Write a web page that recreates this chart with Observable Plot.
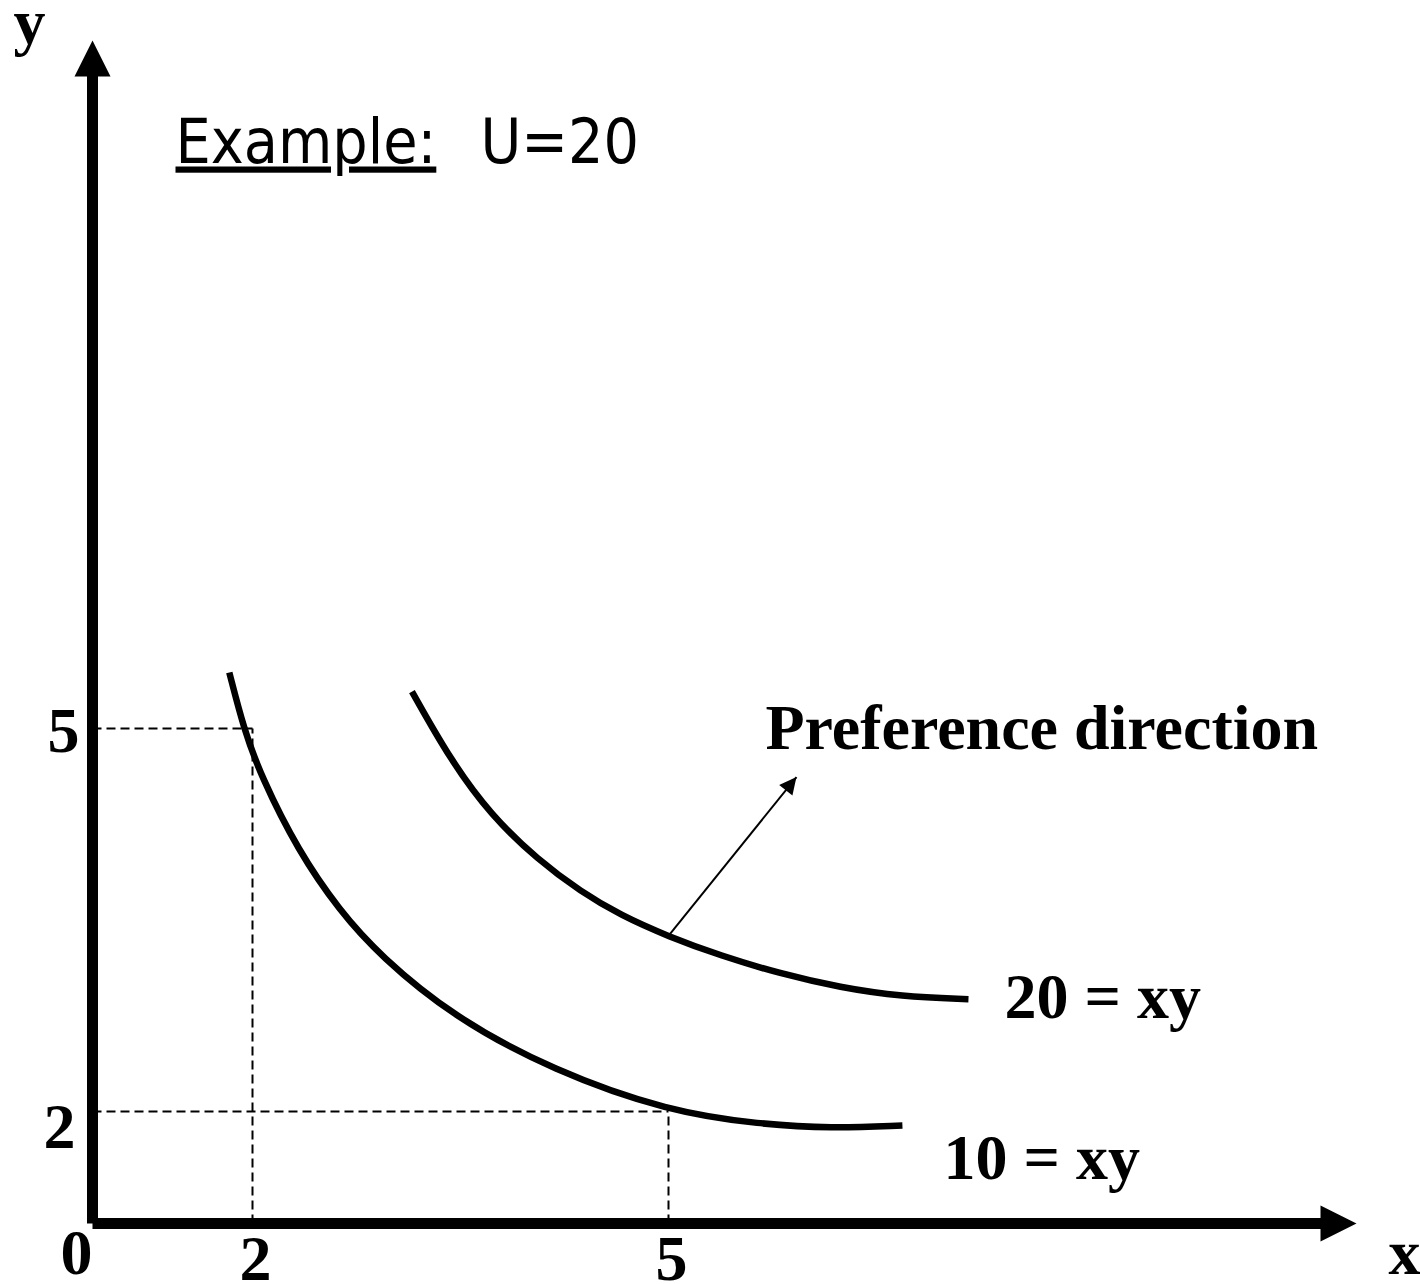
<!DOCTYPE html>
<html>
<head>
<meta charset="utf-8">
<script src="https://cdn.jsdelivr.net/npm/d3@7"></script>
<script src="https://cdn.jsdelivr.net/npm/@observablehq/plot@0.6"></script>
<style>
  html, body { margin: 0; padding: 0; background: #ffffff; }
  #chart svg { display: block; }
</style>
</head>
<body>
<div id="chart"></div>
<script>
// ---------- data ----------
const lowerCurveX = [1.71, 1.89, 2.06, 2.33, 2.63, 2.92, 3.45, 4.17, 5.00, 5.67, 6.18, 6.70];
const lowerCurveY = [5.44, 5.00, 4.63, 4.04, 3.57, 3.22, 2.74, 2.32, 2.00, 1.77, 1.70, 1.75];
const upperCurveX = [3.15, 3.43, 3.72, 4.06, 4.37, 4.65, 5.00, 5.38, 5.81, 6.25, 6.69, 7.18];
const upperCurveY = [5.29, 4.75, 4.32, 3.97, 3.72, 3.54, 3.37, 3.22, 3.08, 2.97, 2.90, 2.88];
const curveLabels = ["10 = xy", "20 = xy"];
const guidePointsX = [2, 5];          // (2,5) and (5,2) on 10 = xy
const guidePointsY = [5, 2];
const xTickValues = [2, 5];
const yTickValues = [5, 2];
const arrowFrom = [5.01, 3.39];
const arrowTo = [5.93, 4.62];
const arrowLabel = "Preference direction";
const axisMax = [10, 10.4];            // x, y at the arrow tips
const axisNames = ["x", "y"];
const originLabel = "0";
const titleParts = ["Example:", "U=20"];

// ---------- scales ----------
const xScaleOpts = {type: "linear", domain: [0, 2, 5, axisMax[0]], range: [92, 252, 668, 1356], axis: null};
const yScaleOpts = {type: "linear", domain: [0, 2, 5, axisMax[1]], range: [1223, 1111, 728, 40], axis: null};
const sx = Plot.scale({x: xScaleOpts});
const sy = Plot.scale({y: yScaleOpts});

const lower = lowerCurveX.map((x, i) => ({x, y: lowerCurveY[i]}));
const upper = upperCurveX.map((x, i) => ({x, y: upperCurveY[i]}));
const guides = guidePointsX.map((x, i) => ({x, y: guidePointsY[i]}));
const hGuides = guides.map(d => ({x1: 0, x2: d.x, y1: d.y, y2: d.y}));
const vGuides = guides.map(d => ({x1: d.x, x2: d.x, y1: 0, y2: d.y}));

const axesLines = [
  {x1: 0, y1: 0, x2: axisMax[0] * 0.98, y2: 0},
  {x1: 0, y1: 0, x2: 0, y2: axisMax[1] * 0.981}
];

// arrowhead symbol: tip at origin, pointing up
const headSymbol = {
  draw(ctx, size) {
    const r = Math.sqrt(size / Math.PI);
    ctx.moveTo(0, 0);
    ctx.lineTo(r / 2, r);
    ctx.lineTo(-r / 2, r);
    ctx.closePath();
  }
};
const pdx = sx.apply(arrowTo[0]) - sx.apply(arrowFrom[0]);
const pdy = sy.apply(arrowTo[1]) - sy.apply(arrowFrom[1]);
const pointerAngle = Math.atan2(pdx, -pdy) * 180 / Math.PI;

const serif = "'Liberation Serif','Times New Roman',Times,serif";
const sans = "'DejaVu Sans Condensed','DejaVu Sans',Tahoma,Verdana,sans-serif";
const big = 64;

const chart = Plot.plot({
  width: 1420,
  height: 1284,
  margin: 0,
  x: xScaleOpts,
  y: yScaleOpts,
  style: {background: "#ffffff", color: "#000000"},
  marks: [
    // dashed guides
    Plot.link(hGuides, {x1: "x1", x2: "x2", y1: "y1", y2: "y2", stroke: "black", strokeWidth: 2, strokeDasharray: "9,5"}),
    Plot.link(vGuides, {x1: "x1", x2: "x2", y1: "y1", y2: "y2", stroke: "black", strokeWidth: 2, strokeDasharray: "9,5"}),
    // axes
    Plot.link(axesLines, {x1: "x1", x2: "x2", y1: "y1", y2: "y2", stroke: "black", strokeWidth: 11, strokeLinecap: "butt"}),
    Plot.dot([{x: 0, y: axisMax[1]}], {x: "x", y: "y", symbol: headSymbol, r: 36, fill: "black", stroke: "none"}),
    Plot.dot([{x: axisMax[0], y: 0}], {x: "x", y: "y", symbol: headSymbol, r: 36, rotate: 90, fill: "black", stroke: "none"}),
    // indifference curves
    Plot.line(lower, {x: "x", y: "y", curve: "basis", stroke: "black", strokeWidth: 6.5, strokeLinecap: "butt"}),
    Plot.line(upper, {x: "x", y: "y", curve: "basis", stroke: "black", strokeWidth: 6.5, strokeLinecap: "butt"}),
    // preference arrow
    Plot.link([{x1: arrowFrom[0], y1: arrowFrom[1], x2: arrowTo[0], y2: arrowTo[1]}], {x1: "x1", y1: "y1", x2: "x2", y2: "y2", stroke: "black", strokeWidth: 2}),
    Plot.dot([{x: arrowTo[0], y: arrowTo[1]}], {x: "x", y: "y", symbol: headSymbol, r: 17, rotate: pointerAngle, fill: "black", stroke: "none"}),
    // tick labels
    Plot.text([{x: 0, y: 0}], {x: "x", y: "y", text: () => originLabel, dx: -16, dy: 50, textAnchor: "middle", lineAnchor: "bottom", fontFamily: serif, fontWeight: "bold", fontSize: big, fill: "black"}),
    Plot.text(xTickValues, {x: d => d, y: () => 0, text: d => String(d), dx: 3, dy: 56, textAnchor: "middle", lineAnchor: "bottom", fontFamily: serif, fontWeight: "bold", fontSize: big, fill: "black"}),
    Plot.text([yTickValues[0]], {x: () => 0, y: d => d, text: d => String(d), dx: -29, dy: 23, textAnchor: "middle", lineAnchor: "bottom", fontFamily: serif, fontWeight: "bold", fontSize: big, fill: "black"}),
    Plot.text([yTickValues[1]], {x: () => 0, y: d => d, text: d => String(d), dx: -33, dy: 36, textAnchor: "middle", lineAnchor: "bottom", fontFamily: serif, fontWeight: "bold", fontSize: big, fill: "black"}),
    // axis names
    Plot.text([{x: 0, y: axisMax[1]}], {x: "x", y: "y", text: () => axisNames[1], dx: -79, dy: 2, textAnchor: "start", lineAnchor: "bottom", fontFamily: serif, fontWeight: "bold", fontSize: big, fill: "black"}),
    Plot.text([{x: axisMax[0], y: 0}], {x: "x", y: "y", text: () => axisNames[0], dx: 32, dy: 50, textAnchor: "start", lineAnchor: "bottom", fontFamily: serif, fontWeight: "bold", fontSize: big, fill: "black"}),
    // curve labels
    Plot.text([lower[lower.length - 1]], {x: "x", y: "y", text: () => curveLabels[0], dx: 41, dy: 53, textAnchor: "start", lineAnchor: "bottom", fontFamily: serif, fontWeight: "bold", fontSize: big, fill: "black"}),
    Plot.text([upper[upper.length - 1]], {x: "x", y: "y", text: () => curveLabels[1], dx: 36, dy: 19, textAnchor: "start", lineAnchor: "bottom", fontFamily: serif, fontWeight: "bold", fontSize: big, fill: "black"}),
    // arrow label
    Plot.text([{x: arrowTo[0], y: arrowTo[1]}], {x: "x", y: "y", text: () => arrowLabel, dx: -31, dy: -28, textAnchor: "start", lineAnchor: "bottom", fontFamily: serif, fontWeight: "bold", fontSize: big, fill: "black"}),
    // title annotation
    Plot.text([titleParts[0]], {frameAnchor: "top-left", text: d => d, dx: 175, dy: 162, textAnchor: "start", lineAnchor: "bottom", fontFamily: sans, fontSize: 62, fill: "black"}),
    Plot.text([titleParts[1]], {frameAnchor: "top-left", text: d => d, dx: 480, dy: 162, textAnchor: "start", lineAnchor: "bottom", fontFamily: sans, fontSize: 62, fill: "black"})
  ]
});

document.getElementById("chart").appendChild(chart);

// underline "Example:"
d3.select(chart).selectAll("text")
  .filter(function () { return this.textContent === titleParts[0]; })
  .style("text-decoration", "underline")
  .style("text-decoration-thickness", "5px")
  .style("text-underline-offset", "7px");
</script>
</body>
</html>
